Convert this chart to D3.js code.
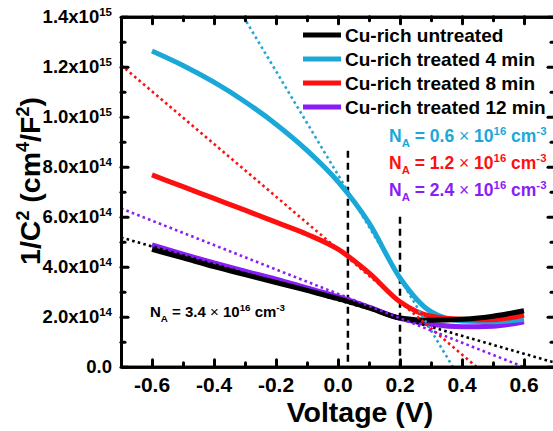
<!DOCTYPE html>
<html>
<head>
<meta charset="utf-8">
<title>1/C2 vs Voltage</title>
<script src="https://cdn.jsdelivr.net/npm/d3@7"></script>
<style>
body { margin: 0; background: #fff; }
svg { font-family: Arial, "Liberation Sans", sans-serif; font-weight: bold; }
.axis path, .axis line { stroke: #000; stroke-width: 3; }
.axis line { stroke-linecap: round; }
</style>
</head>
<body>
<script>
// voltage where curves were read (V)
var voltage = [-0.6, -0.5, -0.4, -0.3, -0.2, -0.1, 0.0, 0.1, 0.2, 0.3, 0.4, 0.5, 0.6];
// 1/C^2, in 1e14 cm^4/F^2
var untreated = [4.69, 4.35, 4.0, 3.68, 3.37, 3.05, 2.72, 2.35, 1.95, 1.86, 1.9, 2.02, 2.24];
var treated4 = [12.63, 12.05, 11.38, 10.6, 9.7, 8.65, 7.4, 5.75, 3.55, 2.2, 1.83, 1.8, 1.9];
var treated8 = [7.67, 7.2, 6.73, 6.26, 5.78, 5.3, 4.7, 3.75, 2.6, 2.02, 1.9, 1.88, 2.07];
var treated12 = [4.87, 4.5, 4.15, 3.82, 3.5, 3.15, 2.8, 2.38, 1.93, 1.7, 1.6, 1.62, 1.8];
var seriesNames = ["Cu-rich untreated", "Cu-rich treated 4 min", "Cu-rich treated 8 min", "Cu-rich treated 12 min"];

// linear Mott-Schottky fits, two end points [V, 1e14 units]
var fitUntreated = [[-0.7, 5.17], [0.7, 0.16]];
var fit4 = [[-0.305, 14], [0.37, 0]];
var fit8 = [[-0.7, 12.07], [0.446, 0]];
var fit12 = [[-0.7, 6.33], [0.597, 0]];

// acceptor density labels
var naValues = ["3.4", "0.6", "1.2", "2.4"];

// vertical markers: voltage and top of the dashed line
var markerV = [0.032, 0.2];
var markerTop = [8.64, 6.0];

// ticks
var xMajor = [-0.6, -0.4, -0.2, 0.0, 0.2, 0.4, 0.6];
var xMinor = [-0.5, -0.3, -0.1, 0.1, 0.3, 0.5];
var xLabels = ["-0.6", "-0.4", "-0.2", "0.0", "0.2", "0.4", "0.6"];
var yMajor = [0, 2, 4, 6, 8, 10, 12, 14];
var yMinor = [1, 3, 5, 7, 9, 11, 13];
var yMant = ["0.0", "2.0", "4.0", "6.0", "8.0", "1.0", "1.2", "1.4"];
var yExp = ["", "14", "14", "14", "14", "15", "15", "15"];

var colors = ["#000000", "#1aa8d8", "#ff1010", "#8a1cf8"];

var W = 553, H = 431;
var svg = d3.select("body").append("svg")
	.attr("width", W)
	.attr("height", H);

var x = d3.scaleLinear().domain([-0.7, 0.7]).range([121, 555]);
var y = d3.scaleLinear().domain([0, 14]).range([366.7, 16.7]);

svg.append("defs").append("clipPath").attr("id", "plotClip")
	.append("rect")
	.attr("x", x(-0.7)).attr("y", y(14))
	.attr("width", x(0.7) - x(-0.7)).attr("height", y(0) - y(14));

var plot = svg.append("g").attr("clip-path", "url(#plotClip)");

// dashed markers
plot.selectAll(".marker")
	.data(markerV)
	.enter()
		.append("line")
		.attr("class", "marker")
		.attr("x1", function(d) { return x(d); })
		.attr("x2", function(d) { return x(d); })
		.attr("y1", function(d, i) { return y(markerTop[i]); })
		.attr("y2", y(0))
		.attr("stroke", "#000")
		.attr("stroke-width", 2.5)
		.attr("stroke-dasharray", "7,5");

var series = [untreated, treated4, treated8, treated12];
var line = d3.line()
	.x(function(d) { return x(d[0]); })
	.y(function(d) { return y(d[1]); })
	.curve(d3.curveMonotoneX);

// draw 12 min first so untreated sits on top near the knee
[3, 1, 2, 0].forEach(function(i) {
	plot.append("path")
		.datum(voltage.map(function(v, j) { return [v, series[i][j]]; }))
		.attr("d", line)
		.attr("fill", "none")
		.attr("stroke", colors[i])
		.attr("stroke-width", 5);
});

var fits = [fitUntreated, fit4, fit8, fit12];
var straight = d3.line()
	.x(function(d) { return x(d[0]); })
	.y(function(d) { return y(d[1]); });
fits.forEach(function(f, i) {
	plot.append("path")
		.datum(f)
		.attr("d", straight)
		.attr("fill", "none")
		.attr("stroke", colors[i])
		.attr("stroke-width", 2.6)
		.attr("stroke-dasharray", "2.6,3.2");
});

// axes, ticks point inward
function styleAxis(g) {
	g.attr("class", "axis");
	g.selectAll("text").remove();
}
svg.append("g").attr("transform", "translate(0," + y(0) + ")")
	.call(d3.axisBottom(x).tickValues(xMajor).tickSize(-7).tickSizeOuter(0).tickFormat(""))
	.call(styleAxis);
svg.append("g").attr("transform", "translate(0," + y(0) + ")")
	.call(d3.axisBottom(x).tickValues(xMinor).tickSize(-4).tickSizeOuter(0).tickFormat(""))
	.call(styleAxis);
svg.append("g").attr("transform", "translate(0," + y(14) + ")")
	.call(d3.axisTop(x).tickValues(xMajor).tickSize(-7).tickSizeOuter(0).tickFormat(""))
	.call(styleAxis);
svg.append("g").attr("transform", "translate(0," + y(14) + ")")
	.call(d3.axisTop(x).tickValues(xMinor).tickSize(-4).tickSizeOuter(0).tickFormat(""))
	.call(styleAxis);
svg.append("g").attr("transform", "translate(" + x(-0.7) + ",0)")
	.call(d3.axisLeft(y).tickValues(yMajor).tickSize(-7).tickSizeOuter(0).tickFormat(""))
	.call(styleAxis);
svg.append("g").attr("transform", "translate(" + x(-0.7) + ",0)")
	.call(d3.axisLeft(y).tickValues(yMinor).tickSize(-4).tickSizeOuter(0).tickFormat(""))
	.call(styleAxis);
svg.append("g").attr("transform", "translate(" + x(0.7) + ",0)")
	.call(d3.axisRight(y).tickValues(yMajor).tickSize(-7).tickSizeOuter(0).tickFormat(""))
	.call(styleAxis);
svg.append("g").attr("transform", "translate(" + x(0.7) + ",0)")
	.call(d3.axisRight(y).tickValues(yMinor).tickSize(-4).tickSizeOuter(0).tickFormat(""))
	.call(styleAxis);

// tick labels
svg.selectAll(".xlab")
	.data(xMajor)
	.enter()
		.append("text")
		.attr("class", "xlab")
		.attr("x", function(d) { return x(d); })
		.attr("y", 392)
		.attr("text-anchor", "middle")
		.attr("font-size", 21)
		.text(function(d, i) { return xLabels[i]; });

var ylab = svg.selectAll(".ylab")
	.data(yMajor)
	.enter()
		.append("text")
		.attr("class", "ylab")
		.attr("x", 112)
		.attr("y", function(d) { return y(d); })
		.attr("dy", "0.36em")
		.attr("text-anchor", "end")
		.attr("font-size", 18.5);
ylab.append("tspan").text(function(d, i) { return yMant[i] + (yExp[i] ? "x10" : ""); });
ylab.append("tspan")
	.attr("dy", -7)
	.attr("font-size", 11.5)
	.text(function(d, i) { return yExp[i]; });

// axis titles
svg.append("text")
	.attr("x", 360)
	.attr("y", 422)
	.attr("text-anchor", "middle")
	.attr("font-size", 28.5)
	.text("Voltage (V)");

var yt = svg.append("text")
	.attr("transform", "translate(40,181) rotate(-90)")
	.attr("text-anchor", "middle")
	.attr("font-size", 28.5);
yt.append("tspan").text("1/C");
yt.append("tspan").attr("dy", -11).attr("font-size", 18).text("2");
yt.append("tspan").attr("dy", 11).text(" (cm");
yt.append("tspan").attr("dy", -11).attr("font-size", 18).text("4");
yt.append("tspan").attr("dy", 11).text("/F");
yt.append("tspan").attr("dy", -11).attr("font-size", 18).text("2");
yt.append("tspan").attr("dy", 11).text(")");

// legend
var legY = [35, 59, 83, 107];
var leg = svg.selectAll(".leg")
	.data(seriesNames)
	.enter()
		.append("g")
		.attr("class", "leg")
		.attr("transform", function(d, i) { return "translate(303," + legY[i] + ")"; });
leg.append("line")
	.attr("x1", 0).attr("x2", 38)
	.attr("stroke", function(d, i) { return colors[i]; })
	.attr("stroke-width", 5);
leg.append("text")
	.attr("x", 42)
	.attr("dy", "0.35em")
	.attr("font-size", 19)
	.text(function(d) { return d; });

// N_A labels
function naLabel(g, value, size) {
	var sub = size * 0.65;
	g.append("tspan").text("N");
	g.append("tspan").attr("dy", size * 0.3).attr("font-size", sub).text("A");
	g.append("tspan").attr("dy", -size * 0.3).text(" = " + value + " ");
	g.append("tspan").attr("font-weight", "normal").text("\u00d7");
	g.append("tspan").text(" 10");
	g.append("tspan").attr("dy", -size * 0.42).attr("font-size", sub).text("16");
	g.append("tspan").attr("dy", size * 0.42).text(" cm");
	g.append("tspan").attr("dy", -size * 0.42).attr("font-size", sub).text("-3");
}
var naX = [150, 389, 389, 389];
var naY = [317, 142, 169, 196];
var naSize = [15, 17.5, 17.5, 17.5];
naValues.forEach(function(v, i) {
	var t = svg.append("text")
		.attr("x", naX[i])
		.attr("y", naY[i])
		.attr("font-size", naSize[i])
		.attr("fill", colors[i]);
	naLabel(t, v, naSize[i]);
});
</script>
</body>
</html>
